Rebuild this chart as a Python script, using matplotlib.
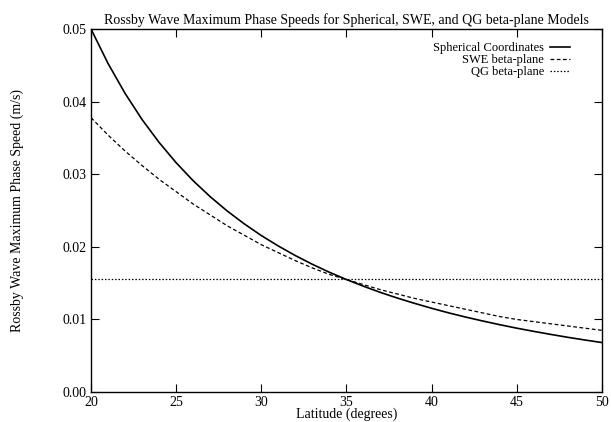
import matplotlib
matplotlib.use('Agg')
import matplotlib.pyplot as plt
from matplotlib.ticker import FormatStrFormatter

# latitude (degrees) and phase speeds (m/s)
lat = [20, 21, 22, 23, 24, 25, 26, 27, 28, 29, 30, 31, 32, 33, 34, 35,
       36, 37, 38, 39, 40, 41, 42, 43, 44, 45, 46, 47, 48, 49, 50]
spherical = [0.0500, 0.04526, 0.04114, 0.03753, 0.03438, 0.03159, 0.02911,
             0.02691, 0.02494, 0.02317, 0.02156, 0.02012, 0.01880, 0.01760,
             0.01650, 0.01550, 0.01458, 0.01372, 0.01294, 0.01222, 0.01154,
             0.01091, 0.01033, 0.00979, 0.00928, 0.00880, 0.00836, 0.00794,
             0.00754, 0.00717, 0.00682]
swe = [0.0378, 0.0354, 0.0332, 0.0312, 0.0293, 0.0276, 0.0259, 0.0244,
       0.0229, 0.0216, 0.0203, 0.0192, 0.0181, 0.0171, 0.0162, 0.0155,
       0.0148, 0.0141, 0.0135, 0.0129, 0.0124, 0.0119, 0.0114, 0.0109,
       0.0104, 0.0100, 0.0097, 0.0094, 0.0091, 0.0088, 0.0085]
qg_lat = [20, 50]
qg = [0.0156, 0.0156]

plt.rcParams['font.family'] = ['Liberation Serif', 'DejaVu Serif']

fig = plt.figure(figsize=(6.11, 4.22), dpi=100)
ax = fig.add_axes([0.149, 0.071, 0.836, 0.860])

ax.plot(lat, spherical, color='black', lw=1.2, label='Spherical Coordinates')
ax.plot(lat, swe, color='black', lw=0.9, dashes=(3, 2), label='SWE beta-plane')
ax.plot(qg_lat, qg, color='black', lw=0.9, dashes=(1.2, 1.5), label='QG beta-plane')

ax.set_xlim(20, 50)
ax.set_ylim(0, 0.05)
ax.set_xticks([20, 25, 30, 35, 40, 45, 50])
ax.set_yticks([0.00, 0.01, 0.02, 0.03, 0.04, 0.05])
ax.yaxis.set_major_formatter(FormatStrFormatter('%.2f'))
ax.tick_params(direction='in', length=6, width=0.8, top=True, right=True,
               labelsize=10, pad=3)
for s in ax.spines.values():
    s.set_linewidth(1.0)

ax.set_title('Rossby Wave Maximum Phase Speeds for Spherical, SWE, and QG beta-plane Models',
             fontsize=10, pad=4)
ax.set_xlabel('Latitude (degrees)', fontsize=10, labelpad=-1)
ax.set_ylabel('Rossby Wave Maximum Phase Speed (m/s)', fontsize=10, labelpad=28)

ax.legend(loc='upper right', bbox_to_anchor=(0.948, 0.978), frameon=False,
          markerfirst=False, fontsize=9, handlelength=1.6, handletextpad=0.5,
          labelspacing=0.0, borderaxespad=0.0)

fig.savefig('out.png', dpi=100)
